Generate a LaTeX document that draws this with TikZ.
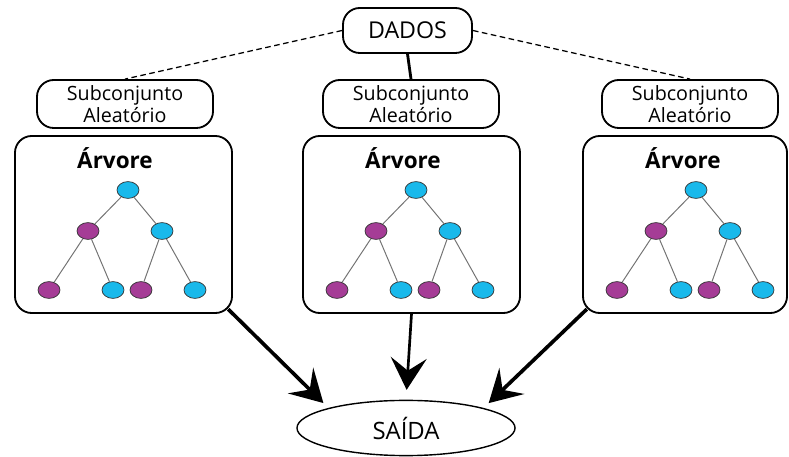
\documentclass[tikz,border=0pt]{standalone}
\usepackage{fontspec}
\setmainfont{Open Sans}
\usetikzlibrary{shapes.geometric,arrows.meta}

\definecolor{azul}{RGB}{25,185,235}
\definecolor{roxo}{RGB}{165,60,150}

\tikzset{
    caixa/.style = {draw, line width = 1.3pt, rounded corners = 0.42cm, inner sep = 0pt},
    folha/.style = {ellipse, draw = black!80, line width = 0.5pt, minimum width = 0.55cm, minimum height = 0.42cm, inner sep = 0pt},
    ramo/.style = {draw = black!55, line width = 0.7pt},
    seta/.style = {-{Stealth[length = 0.8cm, width = 0.9cm, inset = 0.32cm]}, line width = 2.6pt}
}

\begin{document}
\begin{tikzpicture}[x = 0.025cm, y = -0.025cm]
    \useasboundingbox (0,0) rectangle (789,457);

    \node[caixa, minimum width = 3.225cm, minimum height = 1.125cm, font = \fontsize{16.5}{18}\selectfont] (dados) at (407.5,30.5) {DADOS};

    \node[caixa, minimum width = 4.4cm, minimum height = 1.2cm, align = center, font = \fontsize{14}{15.5}\selectfont] (s1) at (125,104) {Subconjunto\\Aleatório};
    \node[caixa, minimum width = 4.4cm, minimum height = 1.2cm, align = center, font = \fontsize{14}{15.5}\selectfont] (s2) at (411,104) {Subconjunto\\Aleatório};
    \node[caixa, minimum width = 4.4cm, minimum height = 1.2cm, align = center, font = \fontsize{14}{15.5}\selectfont] (s3) at (690,104) {Subconjunto\\Aleatório};

    \draw[dash pattern = on 4pt off 2.5pt, line width = 0.9pt] (dados.west) -- (s1.north);
    \draw[dash pattern = on 4pt off 2.5pt, line width = 0.9pt] (dados.east) -- (s3.north);
    \draw[line width = 2pt] (dados.south) -- (s2.north);

    \node[caixa, minimum width = 5.425cm, minimum height = 4.425cm] (a1) at (123.5,224.5) {};
    \node[caixa, minimum width = 5.425cm, minimum height = 4.425cm] (a2) at (411.5,224.5) {};
    \node[caixa, minimum width = 5.1cm, minimum height = 4.425cm] (a3) at (685,224.5) {};

    \foreach \i/\L in {1/15, 2/303, 3/583} {
        \node[font = \bfseries\fontsize{16}{18}\selectfont] (t\i) at (\L+100,158) {Árvore};
        \node[folha, fill = azul] (raiz\i) at (\L+113,190) {};
        \node[folha, fill = roxo] (esq\i) at (\L+73,231) {};
        \node[folha, fill = azul] (dir\i) at (\L+147,231) {};
        \node[folha, fill = roxo] (f\i a) at (\L+34,290) {};
        \node[folha, fill = azul] (f\i b) at (\L+98,290) {};
        \node[folha, fill = roxo] (f\i c) at (\L+126,290) {};
        \node[folha, fill = azul] (f\i d) at (\L+180,290) {};
        \draw[ramo] (raiz\i) -- (esq\i);
        \draw[ramo] (raiz\i) -- (dir\i);
        \draw[ramo] (esq\i) -- (f\i a);
        \draw[ramo] (esq\i) -- (f\i b);
        \draw[ramo] (dir\i) -- (f\i c);
        \draw[ramo] (dir\i) -- (f\i d);
    }

    \node[ellipse, draw, line width = 1pt, minimum width = 5.45cm, minimum height = 1.38cm, font = \fontsize{17}{19}\selectfont] (saida) at (406,428) {SAÍDA};

    \draw[seta, shorten > = 5pt] ([shift = {(-0.12cm,0.12cm)}]a1.south east) -- (saida.north west);
    \draw[seta, line width = 1.9pt, shorten > = 7pt] (a2.south) -- (saida.north);
    \draw[seta, shorten > = 5pt] ([shift = {(0.12cm,0.12cm)}]a3.south west) -- (saida.north east);
\end{tikzpicture}
\end{document}
